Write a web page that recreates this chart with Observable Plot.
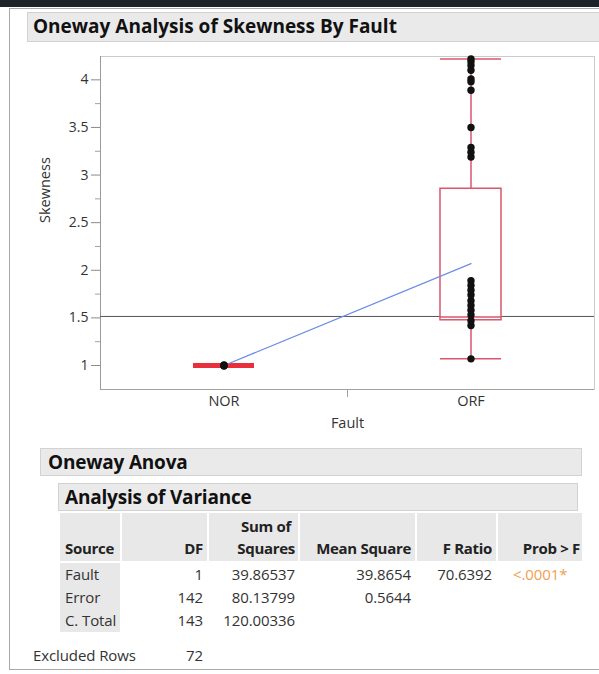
<!DOCTYPE html>
<html><head><meta charset="utf-8">
<script src="https://cdn.jsdelivr.net/npm/d3@7"></script>
<script src="https://cdn.jsdelivr.net/npm/@observablehq/plot@0.6"></script>
<style>
  html,body{margin:0;padding:0;background:#fff;}
  body{width:599px;height:674px;position:relative;overflow:hidden;font-family:"Open Sans",sans-serif;color:#222;}
  .abs{position:absolute;}
  .band{left:0;top:0;width:599px;height:7px;background:#1d2327;}
  .outer{left:9px;top:8px;width:620px;height:662px;border:1px solid #a9a9a9;box-sizing:border-box;}
  .hdr{background:#eaeaea;border:1px solid #d2d2d2;box-sizing:border-box;font-weight:700;color:#111;white-space:nowrap;letter-spacing:-0.2px;}
  .cell{background:#e8e8e8;}
  .t{position:absolute;font-size:15px;white-space:nowrap;line-height:18px;color:#333;letter-spacing:-0.1px;}
  .r{text-align:right;}
  #chart{position:absolute;left:0;top:44px;}
</style></head>
<body>
<div class="abs band"></div>
<div class="abs outer"></div>
<div class="abs hdr" id="title" style="left:27px;top:12px;width:580px;height:30px;font-size:19px;line-height:27px;padding-left:5px;letter-spacing:0px;"></div>
<div id="chart"></div>
<div class="abs hdr" id="anova" style="left:40px;top:448px;width:542px;height:28px;font-size:19px;line-height:26px;padding-left:7px;"></div>
<div class="abs hdr" id="aov" style="left:58px;top:483px;width:520px;height:28px;font-size:19px;line-height:26px;padding-left:6px;"></div>
<div id="table"></div>
<script>
// ---------- data ----------
const titleText = "Oneway Analysis of Skewness By Fault";
const categories = ["NOR", "ORF"];
const groupMeans = [1.0, 2.07];
const grandMean = 1.515;
const boxQ1 = [1.0, 1.475];
const boxMedian = [1.0, 1.51];
const boxQ3 = [1.0, 2.856];
const whiskerLow = [1.0, 1.07];
const whiskerHigh = [1.0, 4.22];
const norValues = [0.995, 1.0, 1.005];
const orfValues = [4.22, 4.19, 4.15, 4.10, 4.01, 3.98, 3.89, 3.50, 3.29, 3.24, 3.19,
                   1.89, 1.84, 1.79, 1.74, 1.68, 1.63, 1.58, 1.53, 1.47, 1.42, 1.07];
const yTicks = [1, 1.5, 2, 2.5, 3, 3.5, 4];
const yMinorTicks = [1.25, 1.75, 2.25, 2.75, 3.25, 3.75];
const yDomain = [0.748, 4.245];
const yLabel = "Skewness";
const xLabel = "Fault";

const anovaTitle = "Oneway Anova";
const aovTitle = "Analysis of Variance";
const colHeaders = ["Source", "DF", "Sum of\nSquares", "Mean Square", "F Ratio", "Prob > F"];
const sources = ["Fault", "Error", "C. Total"];
const dfValues = ["1", "142", "143"];
const sumSquares = ["39.86537", "80.13799", "120.00336"];
const meanSquares = ["39.8654", "0.5644", ""];
const fRatios = ["70.6392", "", ""];
const probF = ["<.0001*", "", ""];
const excludedLabel = "Excluded Rows";
const excludedValue = "72";

// ---------- derived tables ----------
const groups = categories.map((c, i) => ({
  cat: c, pos: i + 0.5, mean: groupMeans[i], q1: boxQ1[i], med: boxMedian[i], q3: boxQ3[i],
  lo: whiskerLow[i], hi: whiskerHigh[i]
}));
const points = [
  ...norValues.map(v => ({pos: 0.5, v})),
  ...orfValues.map(v => ({pos: 1.5, v}))
];
const hw = 0.1235; // half box width (in band units)
const boxed = groups.filter(g => g.q3 > g.q1);
const flat = groups.filter(g => g.q3 <= g.q1);

document.getElementById("title").textContent = titleText;
document.getElementById("anova").textContent = anovaTitle;
document.getElementById("aov").textContent = aovTitle;

const red = "#d9566c";
const chart = Plot.plot({
  width: 599, height: 400,
  marginLeft: 100, marginRight: 5, marginTop: 12, marginBottom: 55,
  style: {fontFamily: "Open Sans, sans-serif", fontSize: "14px", color: "#333", background: "transparent"},
  x: {type: "linear", domain: [0, categories.length], axis: null},
  y: {domain: yDomain, axis: null},
  marks: [
    Plot.frame({stroke: "#cbcbcb"}),
    Plot.ruleX([0], {stroke: "#9a9a9a"}),
    Plot.ruleY([yDomain[0]], {stroke: "#a0a0a0"}),
    Plot.axisY(yTicks, {anchor: "left", tickSize: 9, tickPadding: 3, stroke: "#8a8a8a", fill: "#333", fontSize: 14, tickFormat: d => String(d), label: null}),
    Plot.axisY(yMinorTicks, {anchor: "left", tickSize: 5, tickFormat: () => "", stroke: "#a0a0a0", label: null}),
    Plot.axisX(groups.map(g => g.pos), {anchor: "bottom", tickSize: 0, tickPadding: 6, tickFormat: (d) => categories[Math.floor(d)], fill: "#333", fontSize: 14.5, label: null}),
    Plot.axisX([1], {anchor: "bottom", tickSize: 8, tickFormat: () => "", stroke: "#a0a0a0", label: null}),
    Plot.text([xLabel], {frameAnchor: "bottom", dy: 38, fontSize: 14.5, fill: "#333"}),
    Plot.text([yLabel], {frameAnchor: "left", dx: -55, rotate: -90, fontSize: 14.5, fill: "#333"}),
    // grand mean
    Plot.ruleY([grandMean], {stroke: "#555", strokeWidth: 1}),
    // whiskers
    Plot.ruleX(boxed, {x: "pos", y1: "lo", y2: "hi", stroke: red, strokeWidth: 1.5}),
    Plot.ruleY(boxed, {y: "lo", x1: d => d.pos - hw, x2: d => d.pos + hw, stroke: red, strokeWidth: 1.5}),
    Plot.ruleY(boxed, {y: "hi", x1: d => d.pos - hw, x2: d => d.pos + hw, stroke: red, strokeWidth: 1.5}),
    // boxes
    Plot.rect(boxed, {x1: d => d.pos - hw, x2: d => d.pos + hw, y1: "q1", y2: "q3", fill: "white", stroke: red, strokeWidth: 1.5}),
    Plot.ruleY(boxed, {y: "med", x1: d => d.pos - hw, x2: d => d.pos + hw, stroke: red, strokeWidth: 1.5}),
    Plot.ruleY(flat, {y: "med", x1: d => d.pos - hw, x2: d => d.pos + hw, stroke: "#e8303d", strokeWidth: 5}),
    // means line
    Plot.line(groups, {x: "pos", y: "mean", stroke: "#6e8ee6", strokeWidth: 1.3}),
    // points
    Plot.dot(points, {x: "pos", y: "v", r: 3.7, fill: "#111", stroke: "none"})
  ]
});
document.getElementById("chart").appendChild(chart);

// ---------- table ----------
const T = document.getElementById("table");
function box(l, t, w, h) { const d = document.createElement("div"); d.className = "abs cell"; Object.assign(d.style, {left: l+"px", top: t+"px", width: w+"px", height: h+"px"}); T.appendChild(d); }
function txt(s, x, y, align, extra) {
  const d = document.createElement("div"); d.className = "t" + (align === "r" ? " r" : "");
  d.textContent = s;
  if (align === "r") { d.style.right = (599 - x) + "px"; } else { d.style.left = x + "px"; }
  d.style.top = (y - 9) + "px";
  if (extra) Object.assign(d.style, extra);
  T.appendChild(d);
}
const cellEdges = [[60,120],[122,207],[209,298],[300,415],[417,496],[498,582]];
cellEdges.forEach(([a,b]) => box(a, 513, b - a, 48));
box(60, 563, 60, 69);
const rightEdges = [null, 203, 295, 411, 492, 580];
const hdrStyle = {fontWeight: "700", color: "#222", letterSpacing: "-0.3px"};
colHeaders.forEach((h, i) => {
  const lines = h.split("\n");
  if (i === 0) txt(lines[0], 65, 548, "l", hdrStyle);
  else if (lines.length === 2) { txt(lines[0], rightEdges[i] - 4, 526, "r", hdrStyle); txt(lines[1], rightEdges[i], 548, "r", hdrStyle); }
  else txt(lines[0], rightEdges[i], 548, "r", hdrStyle);
});
const rowY = [574, 597, 620];
sources.forEach((s, r) => {
  txt(s, 65, rowY[r], "l");
  txt(dfValues[r], 203, rowY[r], "r");
  txt(sumSquares[r], 295, rowY[r], "r");
  txt(meanSquares[r], 411, rowY[r], "r");
  txt(fRatios[r], 492, rowY[r], "r");
  if (probF[r]) txt(probF[r], 513, rowY[r], "l", {color: "#f0a050"});
});
txt(excludedLabel, 33, 655, "l");
txt(excludedValue, 203, 655, "r");
</script>
</body></html>
